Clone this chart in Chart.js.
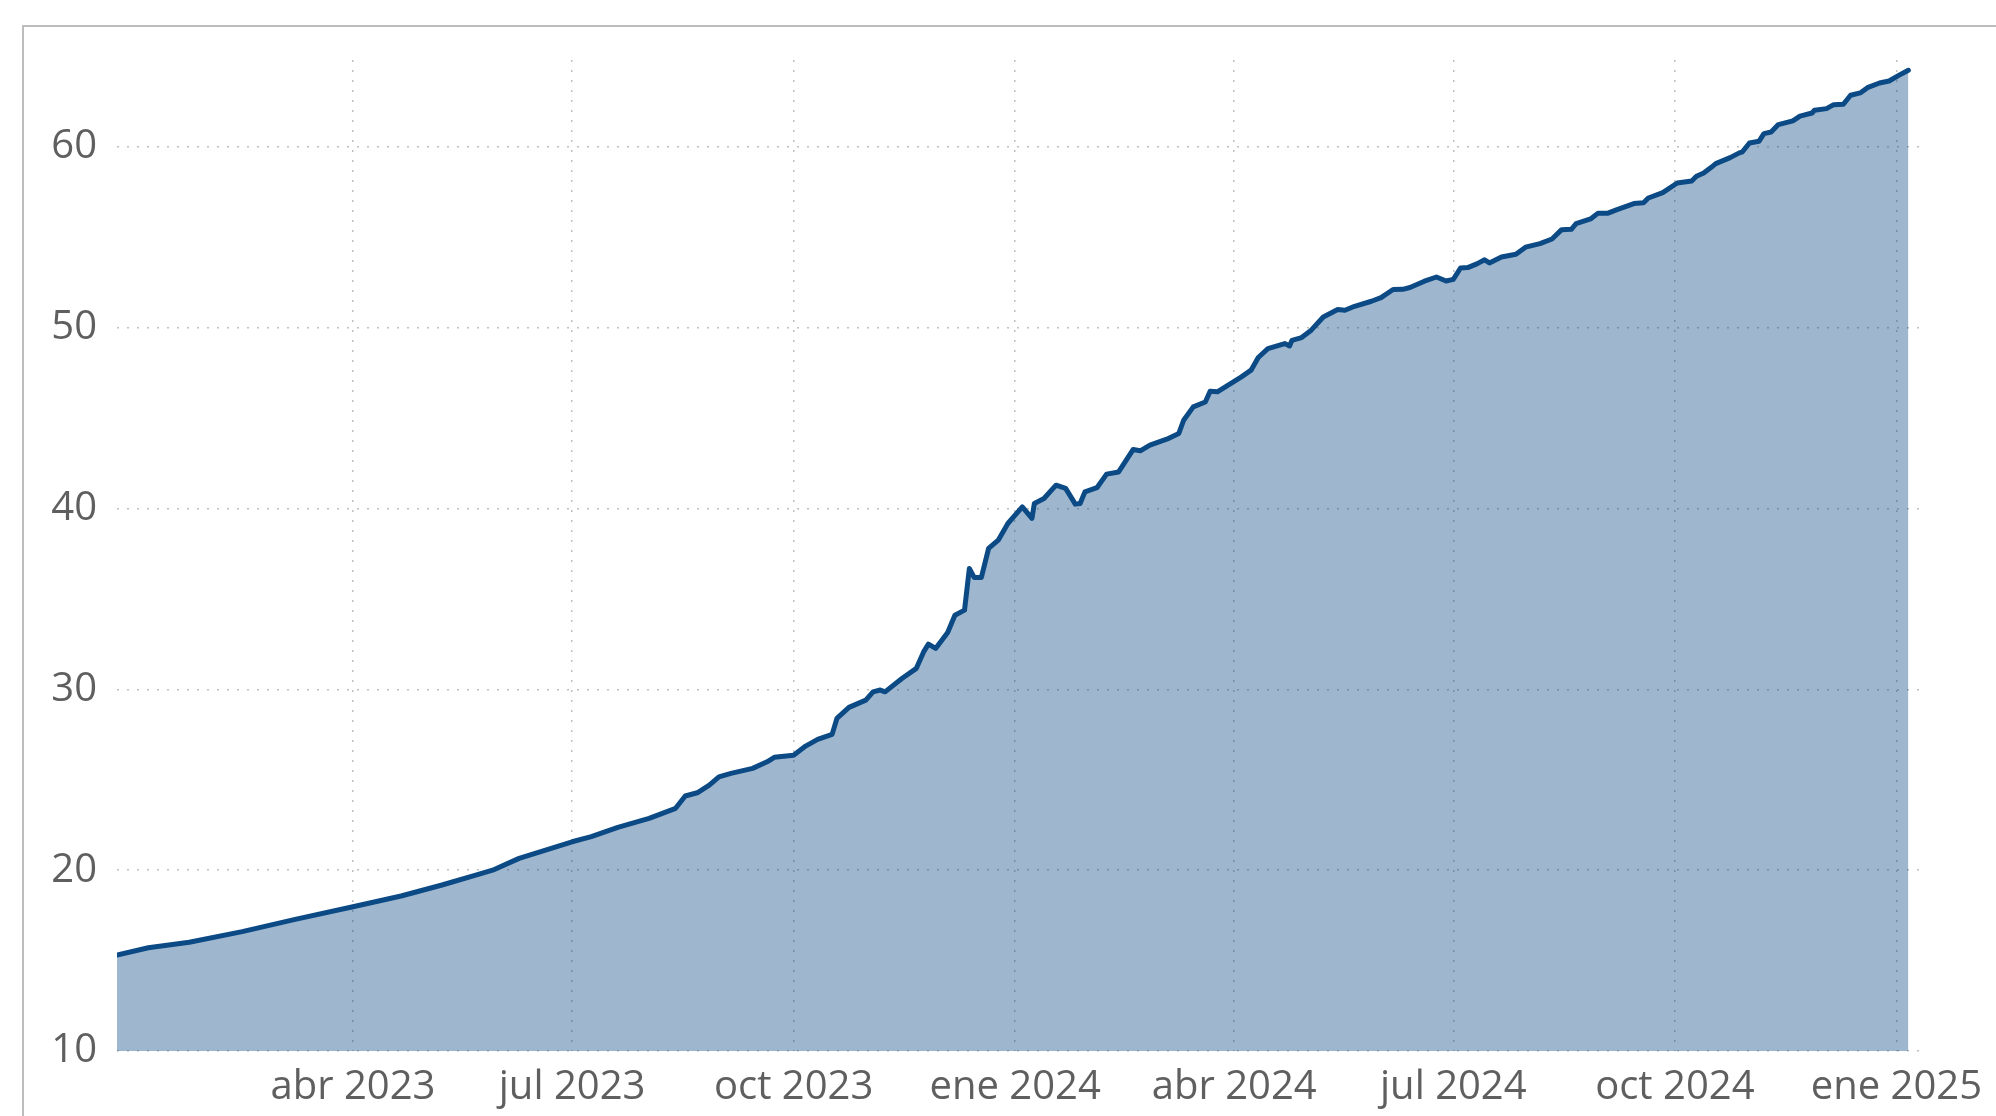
<!DOCTYPE html>
<html lang="es">
<head>
<meta charset="utf-8">
<title>Serie acumulada</title>
<script src="https://cdn.jsdelivr.net/npm/chart.js@4.4.1/dist/chart.umd.min.js"></script>
<style>
  html, body { margin: 0; padding: 0; background: #fff; overflow: hidden; }
  #wrap { position: relative; width: 1996px; height: 1116px; }
  #frame { position: absolute; left: 22px; top: 25px; width: 2100px; height: 1200px;
           border-left: 2px solid #bdbdbd; border-top: 2px solid #bdbdbd; }
  #chart { position: absolute; left: 0; top: 0; }
</style>
</head>
<body>
<div id="wrap">
  <div id="frame"></div>
  <canvas id="chart" width="1996" height="1116"></canvas>
</div>
<script>
// fechas de la serie (aprox.)
const fechas = [
  '2022-12-24','2023-01-06','2023-01-23','2023-02-14','2023-03-08','2023-04-01','2023-04-21',
  '2023-05-08','2023-05-22','2023-05-29','2023-06-09','2023-07-01','2023-07-09','2023-07-20',
  '2023-08-02','2023-08-13','2023-08-17','2023-08-22','2023-08-27','2023-08-31','2023-09-05',
  '2023-09-14','2023-09-20','2023-09-23','2023-10-01','2023-10-06','2023-10-11','2023-10-17',
  '2023-10-19','2023-10-24','2023-10-31','2023-11-03','2023-11-06','2023-11-08','2023-11-15',
  '2023-11-21','2023-11-24','2023-11-26','2023-11-29','2023-12-04','2023-12-07','2023-12-11',
  '2023-12-13','2023-12-15','2023-12-18','2023-12-21','2023-12-25','2023-12-29','2024-01-01',
  '2024-01-04','2024-01-08','2024-01-09','2024-01-13','2024-01-18','2024-01-22','2024-01-26',
  '2024-01-28','2024-01-30','2024-02-04','2024-02-08','2024-02-13','2024-02-19','2024-02-22',
  '2024-02-26','2024-03-04','2024-03-09','2024-03-11','2024-03-15','2024-03-20','2024-03-22',
  '2024-03-25','2024-04-04','2024-04-08','2024-04-11','2024-04-15','2024-04-22','2024-04-24',
  '2024-04-25','2024-04-29','2024-05-03','2024-05-08','2024-05-14','2024-05-17','2024-05-21',
  '2024-05-28','2024-06-01','2024-06-06','2024-06-10','2024-06-13','2024-06-19','2024-06-24',
  '2024-06-28','2024-07-01','2024-07-04','2024-07-07','2024-07-11','2024-07-14','2024-07-16',
  '2024-07-21','2024-07-27','2024-07-31','2024-08-06','2024-08-11','2024-08-15','2024-08-19',
  '2024-08-21','2024-08-27','2024-08-30','2024-09-03','2024-09-07','2024-09-14','2024-09-18',
  '2024-09-20','2024-09-26','2024-10-02','2024-10-08','2024-10-10','2024-10-13','2024-10-16',
  '2024-10-18','2024-10-24','2024-10-28','2024-10-29','2024-11-01','2024-11-05','2024-11-07',
  '2024-11-10','2024-11-13','2024-11-19','2024-11-22','2024-11-27','2024-11-28','2024-12-03',
  '2024-12-06','2024-12-10','2024-12-13','2024-12-17','2024-12-20','2024-12-25','2024-12-29',
  '2025-01-02','2025-01-06'
];

const valores = [
  15.31, 15.71, 16.01, 16.60, 17.28, 17.98, 18.57,
  19.18, 19.73, 20.00, 20.65, 21.57, 21.85, 22.37,
  22.86, 23.42, 24.10, 24.28, 24.70, 25.16, 25.35,
  25.63, 25.99, 26.24, 26.36, 26.86, 27.23, 27.51,
  28.39, 29.00, 29.40, 29.86, 29.96, 29.86, 30.60,
  31.16, 32.07, 32.50, 32.26, 33.14, 34.10, 34.38,
  36.68, 36.19, 36.19, 37.79, 38.25, 39.17, 39.63,
  40.09, 39.45, 40.28, 40.55, 41.29, 41.11, 40.24,
  40.28, 40.92, 41.15, 41.90, 42.02, 43.26, 43.19,
  43.50, 43.83, 44.15, 44.88, 45.62, 45.89, 46.48,
  46.45, 47.28, 47.65, 48.35, 48.84, 49.12, 48.99,
  49.30, 49.45, 49.86, 50.59, 51.00, 50.96, 51.18,
  51.46, 51.66, 52.11, 52.12, 52.22, 52.57, 52.80,
  52.58, 52.67, 53.30, 53.32, 53.54, 53.75, 53.58,
  53.91, 54.06, 54.45, 54.65, 54.90, 55.42, 55.44,
  55.75, 56.01, 56.32, 56.32, 56.53, 56.86, 56.91,
  57.17, 57.47, 58.00, 58.11, 58.37, 58.55, 58.85,
  59.07, 59.40, 59.68, 59.71, 60.21, 60.31, 60.73,
  60.82, 61.23, 61.43, 61.70, 61.87, 62.02, 62.11,
  62.33, 62.35, 62.85, 62.98, 63.27, 63.53, 63.64,
  63.95, 64.23
];

const fechasEje = ['2023-04-01','2023-07-01','2023-10-01','2024-01-01',
                   '2024-04-01','2024-07-01','2024-10-01','2025-01-01'];
const meses = ['ene','feb','mar','abr','may','jun','jul','ago','sep','oct','nov','dic'];
const ticksY = [10, 20, 30, 40, 50, 60];
const rangoX = ['2022-12-24', '2025-01-12'];
const rangoY = [10, 64.8];

const toMs = s => {
  const [a, m, d] = s.split('-').map(Number);
  return Date.UTC(a, m - 1, d);
};

const puntos = fechas.map((f, i) => ({ x: toMs(f), y: valores[i] }));
const fuente = { family: '"Open Sans", "Noto Sans", sans-serif', size: 40 };
const gris = '#5f5f5f';
const rejilla = '#bfbfbf';

new Chart(document.getElementById('chart'), {
  type: 'line',
  data: {
    datasets: [{
      data: puntos,
      borderColor: '#0c4a85',
      borderWidth: 5,
      backgroundColor: 'rgba(13, 74, 133, 0.40)',
      fill: 'start',
      tension: 0,
      pointRadius: 0,
      borderCapStyle: 'round',
      borderJoinStyle: 'round'
    }]
  },
  options: {
    responsive: false,
    animation: false,
    layout: { padding: { top: 60, right: 68, bottom: 0, left: 0 } },
    plugins: { legend: { display: false }, tooltip: { enabled: false } },
    scales: {
      x: {
        type: 'linear',
        min: toMs(rangoX[0]),
        max: toMs(rangoX[1]),
        afterBuildTicks: s => { s.ticks = fechasEje.map(f => ({ value: toMs(f) })); },
        afterFit: s => { s.height = 65; },
        ticks: {
          autoSkip: false,
          maxRotation: 0,
          padding: 13,
          color: gris,
          font: fuente,
          callback: v => {
            const d = new Date(v);
            return meses[d.getUTCMonth()] + ' ' + d.getUTCFullYear();
          }
        },
        grid: { color: rejilla, lineWidth: 1.5, drawTicks: false },
        border: { display: false, dash: [2, 8] }
      },
      y: {
        min: rangoY[0],
        max: rangoY[1],
        afterBuildTicks: s => { s.ticks = ticksY.map(v => ({ value: v })); },
        afterFit: s => { s.width = 117; },
        ticks: { padding: 20, color: gris, font: fuente },
        grid: { color: rejilla, lineWidth: 1.5, drawTicks: false },
        border: { display: false, dash: [2, 8] }
      }
    }
  }
});
</script>
</body>
</html>
